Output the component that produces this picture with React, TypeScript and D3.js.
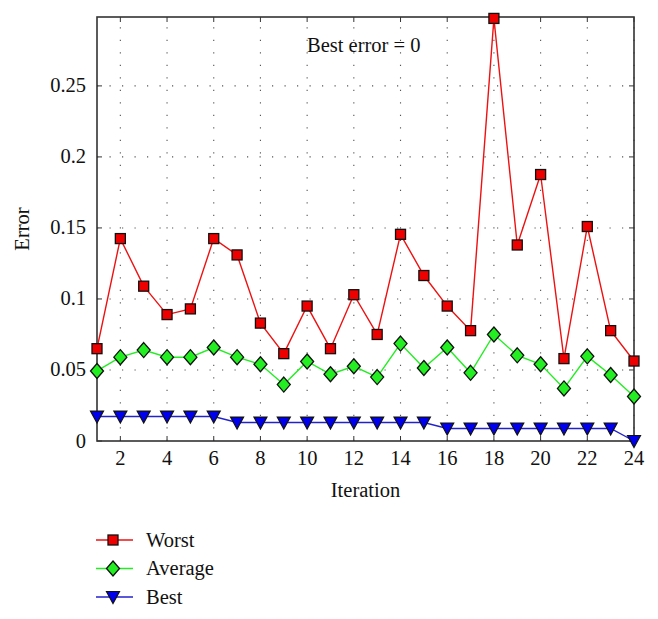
import React from "react";
import * as d3 from "d3";

const iterations = d3.range(1, 25);
const worst = [0.065, 0.1425, 0.109, 0.089, 0.093, 0.1425, 0.131, 0.083, 0.0615, 0.095, 0.065, 0.103, 0.075, 0.1455, 0.1165, 0.095, 0.0777, 0.2975, 0.138, 0.1876, 0.058, 0.151, 0.0777, 0.0563];
const average = [0.0493, 0.059, 0.064, 0.059, 0.059, 0.0658, 0.059, 0.054, 0.0397, 0.056, 0.047, 0.0526, 0.045, 0.0686, 0.0514, 0.0658, 0.048, 0.075, 0.0603, 0.054, 0.037, 0.0596, 0.0465, 0.0313];
const best = [0.0172, 0.0172, 0.0172, 0.0172, 0.0172, 0.0172, 0.013, 0.013, 0.013, 0.013, 0.013, 0.013, 0.013, 0.013, 0.013, 0.0088, 0.0088, 0.0088, 0.0088, 0.0088, 0.0088, 0.0088, 0.0088, 0];
const xTicks = [2, 4, 6, 8, 10, 12, 14, 16, 18, 20, 22, 24];
const yTicks = [0, 0.05, 0.1, 0.15, 0.2, 0.25];
const yTickLabels = ["0", "0.05", "0.1", "0.15", "0.2", "0.25"];
const seriesNames = ["Worst", "Average", "Best"];

const W = 658, H = 619;
const M = { left: 97, right: 634, top: 17, bottom: 441 };
const FONT = "'Liberation Serif', 'Times New Roman', serif";
const FS = 20.5;

function Marker({ kind, x, y }: { kind: string; x: number; y: number }) {
  if (kind === "Worst") {
    return <rect x={x - 5} y={y - 5} width={10} height={10} fill="#ee0000" stroke="#111" strokeWidth={1.3} />;
  }
  if (kind === "Average") {
    const s = 7.5, w = 6.5;
    return <path d={`M${x},${y - s}L${x + w},${y}L${x},${y + s}L${x - w},${y}Z`} fill="#22ee22" stroke="#111" strokeWidth={1.3} />;
  }
  const w = 6.5;
  return <path d={`M${x - w},${y - 5.5}L${x + w},${y - 5.5}L${x},${y + 6.5}Z`} fill="#0000ee" stroke="#111" strokeWidth={1.2} />;
}

export default function App() {
  const x = d3.scaleLinear().domain([1, 24]).range([M.left, M.right]);
  const y = d3.scaleLinear().domain([0, 0.2985]).range([M.bottom, M.top]);
  const data: { [k: string]: number[] } = { Worst: worst, Average: average, Best: best };
  const colors: { [k: string]: string } = { Worst: "#ee1111", Average: "#22ee22", Best: "#2222cc" };
  const line = (vals: number[]) =>
    d3.line<number>().x((_, i) => x(iterations[i])).y((d) => y(d))(vals) || "";
  const order = ["Best", "Average", "Worst"];

  return (
    <svg width={W} height={H} style={{ position: "absolute", left: 0, top: 0, background: "#fff" }} fontFamily={FONT}>
      <rect x={0} y={0} width={W} height={H} fill="#fff" />
      {xTicks.map((t) => (
        <line key={"gx" + t} x1={x(t)} x2={x(t)} y1={M.bottom} y2={M.top} stroke="#555" strokeWidth={1.1} strokeDasharray="1.2,11.3" />
      ))}
      {yTicks.filter((t) => t > 0).map((t) => (
        <line key={"gy" + t} x1={M.left} x2={M.right} y1={y(t)} y2={y(t)} stroke="#555" strokeWidth={1.1} strokeDasharray="1.2,11.3" />
      ))}
      {xTicks.map((t) => (
        <g key={"tx" + t}>
          <line x1={x(t)} x2={x(t)} y1={M.bottom} y2={M.bottom - 5} stroke="#333" strokeWidth={1} />
          <line x1={x(t)} x2={x(t)} y1={M.top} y2={M.top + 5} stroke="#333" strokeWidth={1} />
          <text x={x(t)} y={M.bottom + 24} textAnchor="middle" fontSize={FS} fill="#111">{t}</text>
        </g>
      ))}
      {yTicks.map((t, i) => (
        <g key={"ty" + t}>
          <line x1={M.left} x2={M.left + 5} y1={y(t)} y2={y(t)} stroke="#333" strokeWidth={1} />
          <line x1={M.right} x2={M.right - 5} y1={y(t)} y2={y(t)} stroke="#333" strokeWidth={1} />
          <text x={M.left - 11} y={y(t) + 6.5} textAnchor="end" fontSize={FS} fill="#111">{yTickLabels[i]}</text>
        </g>
      ))}
      <rect x={M.left} y={M.top} width={M.right - M.left} height={M.bottom - M.top} fill="none" stroke="#333" strokeWidth={1.6} />
      {order.map((k) => (
        <g key={k}>
          <path d={line(data[k])} fill="none" stroke={colors[k]} strokeWidth={1.4} />
          {data[k].map((v, i) => (
            <Marker key={i} kind={k} x={x(iterations[i])} y={y(v)} />
          ))}
        </g>
      ))}
      <text x={307} y={52} fontSize={FS} fill="#111">Best error = 0</text>
      <text x={(M.left + M.right) / 2} y={497} textAnchor="middle" fontSize={FS} fill="#111">Iteration</text>
      <text transform={`translate(29,${(M.top + M.bottom) / 2}) rotate(-90)`} textAnchor="middle" fontSize={FS} fill="#111">Error</text>
      {seriesNames.map((k, i) => {
        const ly = 540 + i * 28.5;
        return (
          <g key={"lg" + k}>
            <line x1={96} x2={133} y1={ly} y2={ly} stroke={colors[k]} strokeWidth={1.4} />
            <Marker kind={k} x={113} y={ly} />
            <text x={146} y={ly + 6.5} fontSize={FS} fill="#111">{k}</text>
          </g>
        );
      })}
    </svg>
  );
}
